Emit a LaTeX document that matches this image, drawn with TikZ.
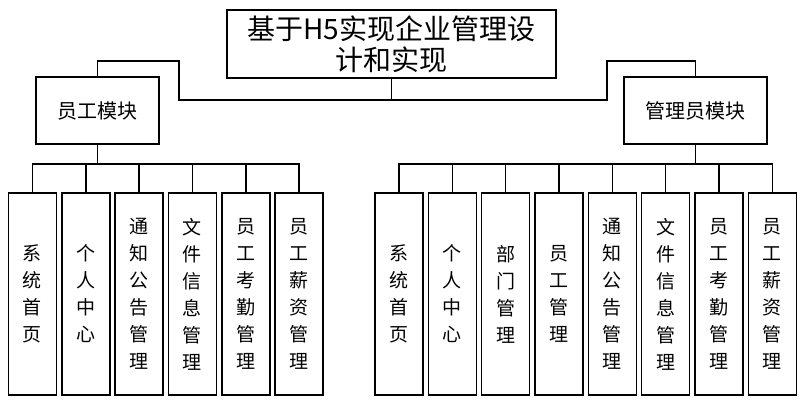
\documentclass[tikz,border=0pt]{standalone}
\usepackage{fontspec}
\setmainfont{Noto Sans CJK SC}
\usetikzlibrary{positioning}

\begin{document}
\begin{tikzpicture}[x=1pt, y=-1pt,
    box/.style={rectangle, draw, line width=1.5pt, inner sep=0pt, outer sep=0pt},
    module/.style={box, minimum height=67pt, font=\fontsize{20pt}{24pt}\selectfont},
    leaf/.style={box, minimum width=48pt, minimum height=202pt, align=center, font=\fontsize{19pt}{27pt}\selectfont},
    link/.style={line width=1.4pt}
]
\useasboundingbox (0,0) rectangle (808,410);
% top level
\node[box, minimum width=329pt, minimum height=68pt, align=center, font=\fontsize{28pt}{31pt}\selectfont] (title) at (391.5,44) {基于H5实现企业管理设\\计和实现};
\node[module, minimum width=123pt] (emp) at (97.5,110.5) {员工模块};
\node[module, minimum width=143pt] (adm) at (695.5,110.5) {管理员模块};
\coordinate (lbend) at (179,61);
\coordinate (rbend) at (607,61);
\draw[link] (title.south) -- ++(0,22) coordinate (hub);
\draw[link] (emp.north) |- (lbend) |- (hub) -| (rbend) -| (adm.north);
% employee module
\node[leaf] (e1) at (32.5,294) {系\\统\\首\\页};
\node[leaf, right=5.33pt of e1] (e2) {个\\人\\中\\心};
\node[leaf, right=5.33pt of e2] (e3) {通\\知\\公\\告\\管\\理};
\node[leaf, right=5.33pt of e3] (e4) {文\\件\\信\\息\\管\\理};
\node[leaf, right=5.33pt of e4] (e5) {员\\工\\考\\勤\\管\\理};
\node[leaf, right=5.33pt of e5] (e6) {员\\工\\薪\\资\\管\\理};
\foreach \i in {1,...,6}
    \draw[link] (emp.south) -- ++(0,20) -| (e\i.north);
% admin module
\node[leaf] (a1) at (399,294) {系\\统\\首\\页};
\node[leaf, right=5.33pt of a1] (a2) {个\\人\\中\\心};
\node[leaf, right=5.33pt of a2] (a3) {部\\门\\管\\理};
\node[leaf, right=5.33pt of a3] (a4) {员\\工\\管\\理};
\node[leaf, right=5.33pt of a4] (a5) {通\\知\\公\\告\\管\\理};
\node[leaf, right=5.33pt of a5] (a6) {文\\件\\信\\息\\管\\理};
\node[leaf, right=5.33pt of a6] (a7) {员\\工\\考\\勤\\管\\理};
\node[leaf, right=5.33pt of a7] (a8) {员\\工\\薪\\资\\管\\理};
\foreach \i in {1,...,8}
    \draw[link] (adm.south) -- ++(0,20) -| (a\i.north);
\end{tikzpicture}
\end{document}
